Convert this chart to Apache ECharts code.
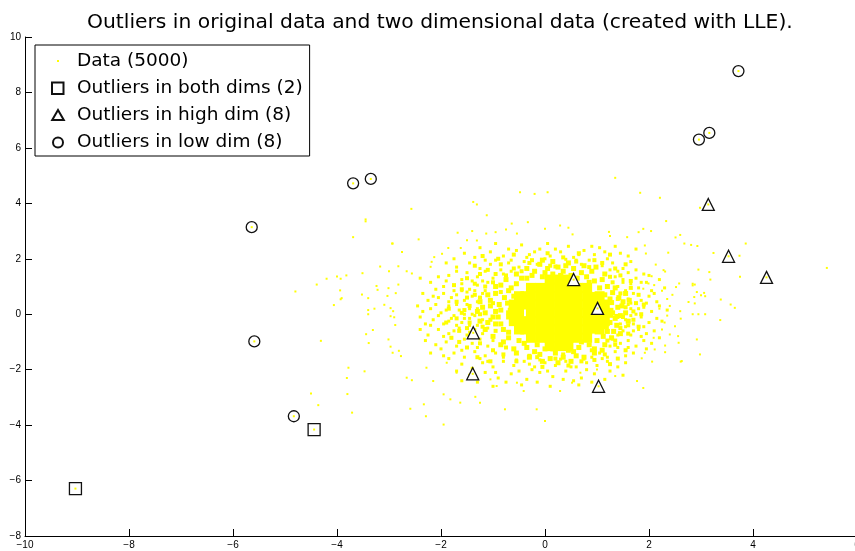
<!DOCTYPE html>
<html>
<head>
<meta charset="utf-8">
<script src="https://cdn.jsdelivr.net/npm/echarts@6/dist/echarts.min.js"></script>
<style>
html,body{margin:0;padding:0;background:#fff;}
#chart{width:855px;height:551px;}
</style>
</head>
<body>
<div id="chart"></div>
<script>
const titleText = 'Outliers in original data and two dimensional data (created with LLE).';
const xTicks = [-10, -8, -6, -4, -2, 0, 2, 4, 6];
const yTicks = [-8, -6, -4, -2, 0, 2, 4, 6, 8, 10];

// dense core of the cloud (saturated yellow area)
const cloudCore = [
[0.09,1.25],[0.27,1.25],[0.45,1.25],
[-0.27,0.95],[-0.09,0.95],[0.09,0.95],[0.27,0.95],[0.45,0.95],[0.63,0.95],[0.81,0.95],
[-0.50,0.65],[-0.38,0.65],[-0.27,0.65],[-0.09,0.65],[0.09,0.65],[0.27,0.65],[0.45,0.65],[0.63,0.65],[0.81,0.65],[0.97,0.62],[1.05,0.65],
[-0.60,0.35],[-0.45,0.35],[-0.27,0.35],[-0.09,0.35],[0.09,0.35],[0.27,0.35],[0.45,0.35],[0.63,0.35],[0.81,0.35],[0.99,0.35],[1.15,0.35],
[-0.62,0.05],[-0.50,0.05],[-0.27,0.05],[-0.09,0.05],[0.09,0.05],[0.27,0.05],[0.45,0.05],[0.63,0.05],[0.81,0.05],[0.99,0.05],[1.12,0.05],[1.22,0.05],
[-0.60,-0.25],[-0.45,-0.25],[-0.27,-0.25],[-0.09,-0.25],[0.09,-0.25],[0.27,-0.25],[0.45,-0.25],[0.63,-0.25],[0.81,-0.25],[0.99,-0.25],[1.15,-0.25],
[-0.50,-0.55],[-0.38,-0.55],[-0.27,-0.55],[-0.09,-0.55],[0.09,-0.55],[0.27,-0.55],[0.45,-0.55],[0.63,-0.55],[0.81,-0.55],[0.97,-0.52],[1.05,-0.55],
[-0.27,-0.85],[-0.09,-0.85],[0.09,-0.85],[0.27,-0.85],[0.45,-0.85],[0.63,-0.85],[0.81,-0.85],
[0.09,-1.15],[0.27,-1.15],[0.45,-1.15]
];

// ring around the core (still dense)
const cloudRing = [
[1.22,0.10],[1.35,-0.15],[1.28,0.42],[1.40,0.25],[1.18,-0.45],[1.32,-0.62],[1.45,-0.05],[1.15,0.70],[1.30,0.78],[1.25,-0.30],[1.50,0.45],[1.12,-0.80],
[1.05,0.95],[0.95,1.20],[0.80,1.35],[1.10,1.25],[0.70,1.50],[0.90,1.55],[1.20,1.00],
[0.50,1.40],[0.35,1.55],[0.15,1.45],[-0.05,1.35],[0.25,1.70],[-0.20,1.55],[0.05,1.65],[0.55,1.65],[-0.35,1.30],
[-0.55,1.10],[-0.70,0.85],[-0.45,1.30],[-0.85,1.05],[-0.60,0.65],[-0.95,0.75],
[-0.72,0.40],[-0.85,0.15],[-0.70,-0.10],[-0.95,-0.35],[-0.80,-0.55],[-1.05,0.30],[-1.15,0.05],[-0.65,0.20],[-1.00,-0.10],
[-0.50,-0.95],[-0.70,-0.85],[-0.35,-1.20],[-0.60,-1.25],[-0.20,-1.35],[-0.85,-1.10],
[0.00,-1.25],[0.20,-1.40],[0.45,-1.30],[0.65,-1.20],[0.35,-1.55],[0.10,-1.60],[0.60,-1.50],[0.85,-1.10],
[1.00,-0.95],[0.95,-1.25],[1.15,-1.10],
[1.42,0.60],[1.55,0.05],[1.38,-0.40],[1.60,-0.25],[1.48,0.30],[1.35,0.95],[1.55,0.75],[1.28,-0.85],[1.45,-0.70],[1.62,0.50],[1.25,0.55],[1.30,0.05],[1.38,-0.08],[1.20,-0.62],
[1.15,1.45],[0.98,1.70],[0.75,1.75],[0.45,1.85],[0.15,1.90],[-0.10,1.80],[-0.35,1.65],[-0.55,1.45],[0.62,1.30],[0.30,1.40],[0.00,1.50],[-0.25,1.40],[0.85,1.15],[0.40,1.75],[-0.05,1.95],
[-0.75,1.25],[-0.95,1.00],[-1.10,0.70],[-1.25,0.45],[-1.30,0.10],[-1.25,-0.25],[-1.15,-0.55],[-1.00,-0.80],[-0.80,-1.00],[-0.65,0.95],[-0.78,0.60],[-0.88,0.35],[-0.90,-0.10],[-0.85,-0.35],[-0.70,-0.65],[-1.05,0.50],[-1.20,0.25],[-1.10,-0.30],[-0.95,0.10],[-0.60,0.40],[-0.70,0.05],
[-0.55,-1.40],[-0.30,-1.55],[-0.05,-1.70],[0.25,-1.75],[0.50,-1.70],[0.75,-1.55],[0.95,-1.40],[1.10,-1.30],[-0.40,-1.05],[-0.15,-1.10],[0.15,-1.25],[0.40,-1.15],[0.70,-1.00],[0.55,-1.35],[-0.10,-1.45]
];

// outer ring of the dense zone
const cloudRing2 = [
[-0.90,2.00],[-0.60,2.15],[-0.25,1.95],[0.05,2.20],[0.35,2.05],[0.65,2.20],[0.95,1.95],[1.25,2.15],[-1.20,2.10],[0.20,1.72],
[-1.35,1.75],[-1.10,1.60],[-0.85,1.80],[-0.60,1.65],[-0.30,1.85],[0.10,1.75],[0.60,1.90],[0.85,1.70],[1.10,1.85],[1.35,1.65],[1.55,1.80],[-0.45,1.55],
[-1.50,1.30],[-1.25,1.45],[-1.00,1.15],[-0.75,1.40],[-0.95,1.45],[1.30,1.15],[1.45,1.40],[1.65,1.20],[1.25,1.35],[-1.35,1.10],
[-1.60,0.90],[-1.35,0.70],[-1.15,1.00],[-0.85,0.80],[1.45,0.75],[1.65,0.95],[1.40,0.55],[1.80,0.70],[-1.50,0.60],[-1.75,1.05],
[-1.70,0.45],[-1.45,0.30],[-1.25,0.60],[-1.00,0.40],[1.55,0.25],[1.75,0.40],[1.70,0.10],[1.90,0.35],[-1.55,0.15],[-1.85,0.20],
[-1.70,-0.15],[-1.45,-0.30],[-1.25,0.00],[-1.05,-0.20],[1.50,-0.10],[1.70,-0.20],[1.85,0.00],[1.60,-0.40],[-1.60,0.05],[-1.90,-0.30],
[-1.65,-0.60],[-1.40,-0.80],[-1.20,-0.45],[-0.95,-0.60],[1.45,-0.50],[1.60,-0.70],[1.80,-0.45],[1.35,-0.95],[-1.50,-0.50],[-1.80,-0.85],
[-1.50,-1.20],[-1.25,-1.05],[-1.00,-1.30],[-0.75,-1.20],[1.15,-1.45],[1.35,-1.10],[1.55,-1.30],[1.20,-0.95],[-1.65,-1.00],[0.90,-1.30],
[-1.30,-1.55],[-1.05,-1.70],[-0.80,-1.45],[-0.55,-1.70],[-0.30,-1.50],[-0.05,-1.90],[0.20,-1.60],[0.45,-1.85],[0.70,-1.70],[0.95,-1.65],[1.25,-1.80],[-0.15,-1.55],[0.35,-1.45],[1.40,-1.60]
];

// middle zone of the cloud
const cloudMid = [
[-1.35,2.05],[-1.05,2.25],[-0.80,2.10],[-0.55,2.30],[-0.30,2.15],[-0.10,2.35],[0.10,2.10],[0.30,2.25],[0.55,2.05],[0.75,2.30],[0.95,2.15],[1.20,2.00],[1.45,2.20],[-0.65,1.95],[0.40,1.98],[0.00,2.00],[-1.15,1.95],[1.05,2.40],
[-1.70,1.70],[-1.45,1.85],[-1.25,1.65],[-1.05,1.80],[-0.85,1.60],[-0.70,1.85],[-0.50,1.70],[-0.40,1.90],[-0.15,1.80],[0.15,1.88],[0.45,1.85],[0.70,1.80],[0.85,1.95],[1.10,1.75],[1.30,1.85],[1.50,1.65],[1.65,1.90],[-1.90,1.85],[1.25,1.60],[-0.95,1.95],
[-1.85,1.40],[-1.60,1.25],[-1.50,1.50],[-1.30,1.35],[-1.15,1.55],[-1.00,1.30],[-0.80,1.45],[-1.20,1.20],[1.35,1.35],[1.50,1.25],[1.60,1.50],[1.75,1.30],[1.90,1.45],[1.40,1.55],[-1.70,1.55],[-0.65,1.55],
[-1.95,1.00],[-1.75,0.85],[-1.60,1.10],[-1.45,0.90],[-1.30,1.05],[-1.15,0.85],[-1.10,1.15],[-1.40,1.20],[1.40,1.00],[1.55,0.85],[1.65,1.10],[1.80,0.95],[1.95,1.15],[1.50,1.15],[-2.10,0.90],[2.05,0.85],
[-2.05,0.60],[-1.85,0.45],[-1.70,0.70],[-1.55,0.50],[-1.40,0.65],[-1.30,0.45],[-1.20,0.75],[-1.50,0.80],[-2.25,0.50],[1.60,0.55],[1.70,0.75],[1.85,0.50],[2.00,0.65],[1.65,0.40],[2.15,0.45],[-1.95,0.75],
[-2.20,0.20],[-2.00,0.05],[-1.85,0.30],[-1.65,0.15],[-1.50,0.35],[-1.40,0.00],[-1.30,0.20],[-1.75,-0.05],[-2.35,0.10],[1.65,0.20],[1.75,0.00],[1.90,0.25],[2.05,0.10],[1.60,0.35],[2.20,0.30],[-1.55,0.00],
[-2.15,-0.20],[-1.95,-0.35],[-1.80,-0.15],[-1.60,-0.30],[-1.45,-0.15],[-1.30,-0.40],[-1.20,-0.20],[-2.30,-0.35],[1.55,-0.20],[1.70,-0.35],[1.85,-0.10],[2.00,-0.30],[1.65,-0.05],[2.15,-0.15],[-1.70,-0.40],[1.45,-0.35],
[-2.05,-0.55],[-1.85,-0.70],[-1.65,-0.50],[-1.50,-0.75],[-1.35,-0.55],[-1.20,-0.70],[-1.10,-0.50],[-2.25,-0.75],[1.50,-0.60],[1.65,-0.75],[1.80,-0.55],[1.95,-0.70],[1.55,-0.45],[2.10,-0.60],[-1.95,-0.80],[1.40,-0.75],
[-1.90,-1.00],[-1.70,-1.15],[-1.55,-0.90],[-1.40,-1.05],[-1.25,-0.90],[-1.10,-1.15],[-1.00,-0.95],[-2.10,-1.10],[1.30,-0.90],[1.45,-1.05],[1.60,-0.95],[1.75,-1.15],[1.40,-1.20],[1.90,-0.95],[-1.30,-1.20],[1.25,-1.15],
[-1.75,-1.40],[-1.55,-1.55],[-1.35,-1.35],[-1.15,-1.50],[-0.95,-1.40],[-0.80,-1.55],[-1.25,-1.60],[1.05,-1.40],[1.20,-1.55],[1.35,-1.35],[1.55,-1.50],[0.90,-1.55],[1.70,-1.40],[-1.95,-1.50],
[-1.60,-1.80],[-1.40,-1.95],[-1.20,-1.75],[-1.00,-1.90],[-0.80,-1.70],[-0.60,-1.85],[-0.40,-1.70],[-0.20,-1.90],[0.00,-1.75],[0.20,-1.85],[0.40,-1.70],[0.60,-1.90],[0.80,-1.75],[1.00,-1.85],[1.20,-1.70],[1.40,-1.90],[-0.10,-1.65],[0.30,-1.62],[-0.55,-1.65],[0.75,-1.62],
[-1.45,-2.20],[-1.15,-2.10],[-0.90,-2.30],[-0.65,-2.15],[-0.35,-2.35],[-0.10,-2.10],[0.15,-2.25],[0.40,-2.05],[0.70,-2.30],[0.95,-2.15],[1.25,-2.05],[-0.25,-2.00],[0.55,-2.40],
[-1.55,2.20],[-1.25,2.40],[-0.95,2.55],[-0.70,2.35],[-0.45,2.50],[-0.20,2.25],[0.05,2.55],[0.20,2.35],[0.45,2.45],[0.65,2.15],[0.90,2.45],[1.15,2.25],[1.35,2.45],[1.60,2.10],[1.75,2.35],[-1.75,2.00],[-0.35,2.05],[0.60,1.95],
[-2.40,1.30],[-2.20,1.15],[-2.05,1.35],[-1.90,1.20],[-2.35,0.75],[-2.15,0.65],[-1.80,0.60],[-1.60,0.85],[-1.35,0.85],[-2.45,0.30],[-2.10,0.35],[-1.90,0.15],[-1.70,0.35],[-1.45,0.20],[-2.40,-0.10],[-2.05,-0.05],[-1.85,-0.25],[-1.55,-0.15],[-1.35,-0.05],[-2.40,-0.55],[-2.20,-0.40],[-1.75,-0.60],[-1.45,-0.40],[-2.30,-0.95],[-2.00,-1.25],[-1.80,-0.85],[-1.60,-1.30],[-1.45,-0.65],[-2.20,-1.40],[-1.85,-1.60],
[1.75,1.60],[2.00,1.40],[2.20,1.25],[1.85,1.15],[2.30,0.95],[2.10,0.75],[1.95,0.40],[2.35,0.15],[1.80,0.20],[2.25,-0.25],[1.90,-0.45],[2.20,-0.85],[1.85,-0.80],[2.05,-1.05],[1.70,-0.60],[1.60,-1.20],[1.95,-1.25],
[-1.60,-2.40],[-1.30,-2.45],[-1.00,-2.60],[-0.75,-2.45],[-0.45,-2.55],[-0.15,-2.45],[0.10,-2.60],[0.35,-2.35],[0.65,-2.55],[0.90,-2.45],[1.15,-2.35],[1.50,-2.20],[-0.95,-2.10],[-0.50,-2.05],[0.05,-2.05],[0.80,-2.00],[1.55,-1.75],[-1.70,-2.05],[-0.30,-1.80],[0.50,-1.90],[1.10,-1.60],[-1.10,-1.70]
];

// sparse outer points of the cloud
const cloudOuter = [
[-3.45,3.42],[-3.45,3.35],[-3.69,2.78],[-2.94,2.55],[-3.17,1.72],[-3.00,1.55],[-3.51,1.48],[-4.20,1.28],[-4.00,1.36],[-3.93,1.28],[-3.82,1.40],[-4.39,1.07],[-4.80,0.82],[-3.94,0.86],[-3.91,0.58],[-3.93,0.54],[-4.06,0.33],[-3.52,0.71],[-3.40,0.58],[-3.24,1.02],[-3.22,0.88],[-3.01,0.94],[-2.87,0.76],[-2.82,1.07],[-3.03,0.66],[-3.40,0.15],[-3.40,0.00],[-3.28,0.20],[-3.09,0.34],[-2.97,0.22],[-2.92,0.11],[-2.97,-0.07],[-2.90,-0.11],[-2.88,-0.39],[-4.31,-0.96],[-3.44,-0.72],[-3.31,-0.57],[-3.39,-1.04],[-3.01,-0.91],[-2.97,-1.17],[-2.93,-1.39],[-2.81,-1.32],[-3.78,-1.93],[-3.81,-2.30],[-3.47,-2.06],[-4.50,-2.86],[-4.36,-3.28],[-3.80,-2.88],[-3.71,-3.55],
[1.35,4.92],[-0.48,4.40],[-0.20,4.34],[0.05,4.40],[1.83,4.38],[2.21,4.20],[-1.38,4.05],[-1.31,3.96],[-2.57,3.80],[-1.12,3.57],[2.33,3.36],[-0.64,3.27],[-0.33,3.32],[0.29,3.20],[0.45,3.12],[0.00,3.08],[-0.75,3.06],[-1.13,2.91],[-1.40,3.00],[-0.54,2.91],[-0.95,2.96],[-1.68,2.94],[0.53,2.88],[1.23,2.97],[1.25,2.82],[1.58,2.78],[1.89,3.08],[2.04,3.00],[1.80,2.96],[2.51,2.77],[2.60,2.86],[2.68,2.55],[2.93,2.46],[2.81,2.50],[-2.93,2.55],[-2.43,2.70],[-2.75,2.24],[-1.50,2.67],[-1.31,2.66],[-1.62,2.39],[-1.86,2.39],[-1.98,2.18],[-2.13,2.06],[-2.18,1.89],[-2.20,1.71],[3.24,2.21],[3.16,1.52],[3.18,1.25],[2.95,1.61],[2.84,1.10],[2.87,0.62],[3.08,0.65],
[-2.82,1.73],[-2.66,1.55],[-2.56,1.47],[-2.77,-1.51],[-2.66,-2.29],[-2.56,-2.38],[-2.59,-3.41],[-2.29,-3.68],[-1.95,-3.98],[2.92,-0.91],[2.98,-1.45],[2.63,-1.69],[2.57,-1.03],[2.31,-1.37],[2.09,-0.85],[1.77,-2.41],[1.89,-2.66],[-0.16,-3.43],[0.00,-3.85],[-0.77,-3.43],[-1.34,-2.98],[-1.63,-3.19],[-1.82,-3.07],[-1.95,-2.89],[-2.33,-3.25],[-2.15,-2.41],[-2.28,-1.93],[-1.89,-1.75],[-1.70,-2.11],[1.35,-2.23],[1.00,-1.99],[0.68,-2.11],[0.52,-2.47],[0.29,-2.77],[-0.41,-2.77],[-0.54,-2.47],[-0.93,-2.59],[-1.05,-2.35],[-1.25,-3.19],
[2.98,3.84],[3.86,2.55],[1.92,2.48],[1.94,2.19],[2.37,2.22],[3.74,2.11],[2.13,1.79],[2.28,1.59],[2.31,1.54],[3.75,1.35],[5.42,1.67],[2.05,1.37],[1.89,0.92],[1.99,1.11],[2.52,0.98],[2.58,1.11],[2.84,1.04],[2.88,1.07],[2.92,0.80],[3.06,0.77],[3.00,0.68],[3.38,0.53],[3.57,0.35],[3.65,0.23],[2.76,0.44],[2.88,0.39],[2.84,0.00],[2.95,0.00],[3.08,0.00],[3.37,-0.21],[2.60,0.11],[2.61,-0.16],[2.50,-0.43],[2.56,-0.79],[2.40,-0.73],[2.31,-1.13],[2.11,-1.27],[1.92,-1.39],[1.86,-1.59],[2.61,-1.71],[2.06,-1.71],
[2.25,0.85],[2.35,0.55],[2.20,0.20],[2.40,0.30],[2.30,-0.30],[2.25,-0.55],[2.45,0.70],[2.10,1.05],[2.35,-0.05]
];

// outliers
const bothX = [-9.03, -4.44];
const bothY = [-6.29, -4.16];
const highX = [0.55, 1.01, -1.38, -1.39, 1.03, 3.14, 3.53, 4.26];
const highY = [1.25, 0.21, -0.67, -2.15, -2.60, 3.96, 2.09, 1.33];
const lowX = [3.72, 3.16, 2.96, -3.69, -3.35, -5.64, -5.59, -4.83];
const lowY = [8.77, 6.54, 6.30, 4.72, 4.88, 3.14, -0.98, -3.68];

const NAME_DATA = 'Data (5000)';
const NAME_BOTH = 'Outliers in both dims (2)';
const NAME_HIGH = 'Outliers in high dim (8)';
const NAME_LOW = 'Outliers in low dim (8)';

const zip = (xs, ys) => xs.map((v, i) => [v, ys[i]]);
const bothPts = zip(bothX, bothY);
const highPts = zip(highX, highY);
const lowPts = zip(lowX, lowY);

const YELLOW = '#ffff00';
const fmt = v => String(v).replace('-', '\u2212');

// legend icons drawn inside a 28x12 box (corner moves keep the box size)
const BOX = 'M0 0L0 0M28 12L28 12';
const ICON_DATA = 'path://' + BOX + 'M13 5L15 5L15 7L13 7Z';
const ICON_RECT = 'path://' + BOX + 'M8 0.5L19.5 0.5L19.5 12L8 12Z';
const ICON_TRI = 'path://' + BOX + 'M14 1L19.8 11L8.2 11Z';
const ICON_CIRC = 'path://' + BOX + 'M9 6.5A5 5 0 1 1 19 6.5A5 5 0 1 1 9 6.5Z';

const chart = echarts.init(document.getElementById('chart'), null, {renderer: 'canvas'});

function dataSeries(pts, size, z) {
  return {
    name: NAME_DATA, type: 'scatter', data: pts, symbol: 'rect', symbolSize: size,
    itemStyle: {color: YELLOW, opacity: 1, borderWidth: 0}, z: z, silent: true,
    emphasis: {disabled: true}
  };
}
function outlierSeries(name, pts, sym, size) {
  return {
    name: name, type: 'scatter', data: pts, symbol: sym, symbolSize: size,
    itemStyle: {color: '#ffffff', borderColor: '#111111', borderWidth: 1.3, opacity: 1},
    z: 5, silent: true, emphasis: {disabled: true}
  };
}

const option = {
  animation: false,
  backgroundColor: '#ffffff',
  title: {
    text: titleText, left: 82, top: 8,
    textStyle: {fontFamily: 'DejaVu Sans', fontSize: 20.3, fontWeight: 'normal', color: '#000'}
  },
  grid: {left: 25, right: -2, top: 37, bottom: 15, containLabel: false, outerBoundsMode: 'none'},
  legend: {
    left: 35, top: 45, orient: 'vertical',
    backgroundColor: '#ffffff', borderColor: '#000000', borderWidth: 1, borderRadius: 0,
    padding: [6, 7, 4, 8], itemGap: 7, itemWidth: 28, itemHeight: 12,
    selectedMode: false,
    textStyle: {fontFamily: 'DejaVu Sans', fontSize: 18.5, color: '#000', lineHeight: 20},
    data: [
      {name: NAME_DATA, icon: ICON_DATA, itemStyle: {color: YELLOW, borderWidth: 0}},
      {name: NAME_BOTH, icon: ICON_RECT},
      {name: NAME_HIGH, icon: ICON_TRI},
      {name: NAME_LOW, icon: ICON_CIRC}
    ],
    z: 10
  },
  xAxis: {
    type: 'value', min: -10, max: 6, interval: 2,
    axisLine: {show: true, onZero: false, lineStyle: {color: '#000', width: 1}},
    axisTick: {show: true, inside: true, length: 7, lineStyle: {color: '#000'}},
    splitLine: {show: false},
    axisLabel: {margin: 4, fontFamily: 'Liberation Sans', fontSize: 10, color: '#000', formatter: fmt, showMaxLabel: true, showMinLabel: true}
  },
  yAxis: {
    type: 'value', min: -8, max: 10, interval: 2,
    axisLine: {show: true, onZero: false, lineStyle: {color: '#000', width: 1}},
    axisTick: {show: true, inside: true, length: 7, lineStyle: {color: '#000'}},
    splitLine: {show: false},
    axisLabel: {margin: 4, fontFamily: 'Liberation Sans', fontSize: 10, color: '#000', formatter: fmt, showMaxLabel: true, showMinLabel: true}
  },
  series: [
    dataSeries(cloudOuter, 2, 2),
    dataSeries(cloudMid, 3, 2),
    dataSeries(cloudRing2, 4, 2),
    dataSeries(cloudRing, 5, 2),
    dataSeries(cloudCore, 10, 2),
    outlierSeries(NAME_BOTH, bothPts, 'rect', 12),
    outlierSeries(NAME_HIGH, highPts, 'triangle', 12),
    outlierSeries(NAME_LOW, lowPts, 'circle', 11),
    dataSeries(bothPts.concat(highPts, lowPts), 2, 6)
  ]
};
chart.setOption(option);
</script>
</body>
</html>
